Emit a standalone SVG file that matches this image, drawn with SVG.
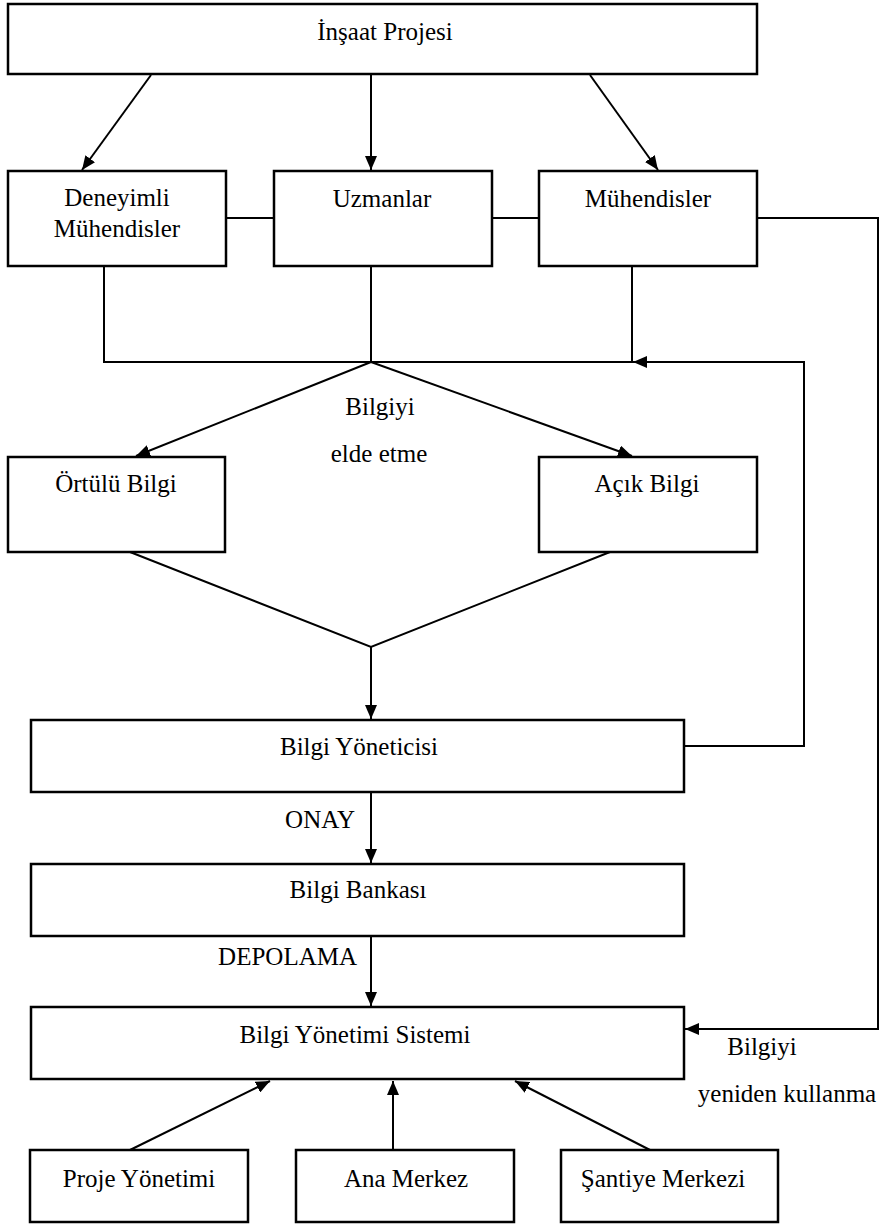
<svg xmlns="http://www.w3.org/2000/svg" width="887" height="1224" viewBox="0 0 887 1224">
<style>
.box{fill:#fff;stroke:#000;stroke-width:2.5}
.ln{fill:none;stroke:#000;stroke-width:2}
text{font-family:"Liberation Serif","Times New Roman",serif;font-size:25px;fill:#000}
.c{text-anchor:middle}
</style>
<defs>
<marker id="ah" viewBox="0 0 14 12" refX="14" refY="6" markerWidth="14" markerHeight="12" markerUnits="userSpaceOnUse" orient="auto">
<path d="M0,0 L14,6 L0,12 z" fill="#000"/>
</marker>
</defs>
<rect width="887" height="1224" fill="#fff"/>
<g id="connectors">
<line class="ln" x1="151" y1="75" x2="82" y2="170" marker-end="url(#ah)"/>
<line class="ln" x1="371" y1="75" x2="371" y2="170" marker-end="url(#ah)"/>
<line class="ln" x1="590" y1="75" x2="658" y2="170" marker-end="url(#ah)"/>
<line class="ln" x1="226" y1="218" x2="274" y2="218"/>
<line class="ln" x1="492" y1="218" x2="539" y2="218"/>
<polyline class="ln" points="757,218 878,218 878,1029 685,1029" marker-end="url(#ah)"/>
<polyline class="ln" points="104,266 104,362 632,362 632,266"/>
<line class="ln" x1="371" y1="266" x2="371" y2="362"/>
<polyline class="ln" points="684,746 804,746 804,362 633,362" marker-end="url(#ah)"/>
<line class="ln" x1="371" y1="362" x2="136" y2="456" marker-end="url(#ah)"/>
<line class="ln" x1="371" y1="362" x2="632" y2="456" marker-end="url(#ah)"/>
<polyline class="ln" points="130,552 371,647 610,552"/>
<line class="ln" x1="371" y1="647" x2="371" y2="719" marker-end="url(#ah)"/>
<line class="ln" x1="371" y1="792" x2="371" y2="863" marker-end="url(#ah)"/>
<line class="ln" x1="371" y1="936" x2="371" y2="1006" marker-end="url(#ah)"/>
<line class="ln" x1="130" y1="1150" x2="270" y2="1081" marker-end="url(#ah)"/>
<line class="ln" x1="393" y1="1150" x2="393" y2="1081" marker-end="url(#ah)"/>
<line class="ln" x1="650" y1="1150" x2="515" y2="1081" marker-end="url(#ah)"/>
<text x="380" y="415" class="c">Bilgiyi</text>
<text x="379" y="462" class="c">elde etme</text>
<text x="355" y="828" text-anchor="end">ONAY</text>
<text x="357" y="965" text-anchor="end">DEPOLAMA</text>
<text x="762" y="1055" class="c">Bilgiyi</text>
<text x="787" y="1102" class="c">yeniden kullanma</text>
</g>
<g id="insaat"><rect class="box" x="8" y="4" width="749" height="70"/><text x="385" y="40" class="c">İnşaat Projesi</text></g>
<g id="deneyimli"><rect class="box" x="8" y="171" width="218" height="95"/><text x="117" y="206" class="c">Deneyimli</text><text x="117" y="237" class="c">Mühendisler</text></g>
<g id="uzmanlar"><rect class="box" x="274" y="171" width="218" height="95"/><text x="382" y="207" class="c">Uzmanlar</text></g>
<g id="muhendisler"><rect class="box" x="539" y="171" width="218" height="95"/><text x="648" y="207" class="c">Mühendisler</text></g>
<g id="ortulu"><rect class="box" x="8" y="457" width="217" height="95"/><text x="116" y="492" class="c">Örtülü Bilgi</text></g>
<g id="acik"><rect class="box" x="539" y="457" width="218" height="95"/><text x="647" y="492" class="c">Açık Bilgi</text></g>
<g id="yoneticisi"><rect class="box" x="31" y="720" width="653" height="72"/><text x="359" y="755" class="c">Bilgi Yöneticisi</text></g>
<g id="bankasi"><rect class="box" x="31" y="864" width="653" height="72"/><text x="358" y="898" class="c">Bilgi Bankası</text></g>
<g id="sistemi"><rect class="box" x="31" y="1007" width="653" height="72"/><text x="355" y="1043" class="c">Bilgi Yönetimi Sistemi</text></g>
<g id="proje"><rect class="box" x="30" y="1150" width="218" height="72"/><text x="139" y="1187" class="c">Proje Yönetimi</text></g>
<g id="ana"><rect class="box" x="296" y="1150" width="218" height="72"/><text x="406" y="1187" class="c">Ana Merkez</text></g>
<g id="santiye"><rect class="box" x="561" y="1150" width="217" height="72"/><text x="663" y="1187" class="c">Şantiye Merkezi</text></g>
</svg>
